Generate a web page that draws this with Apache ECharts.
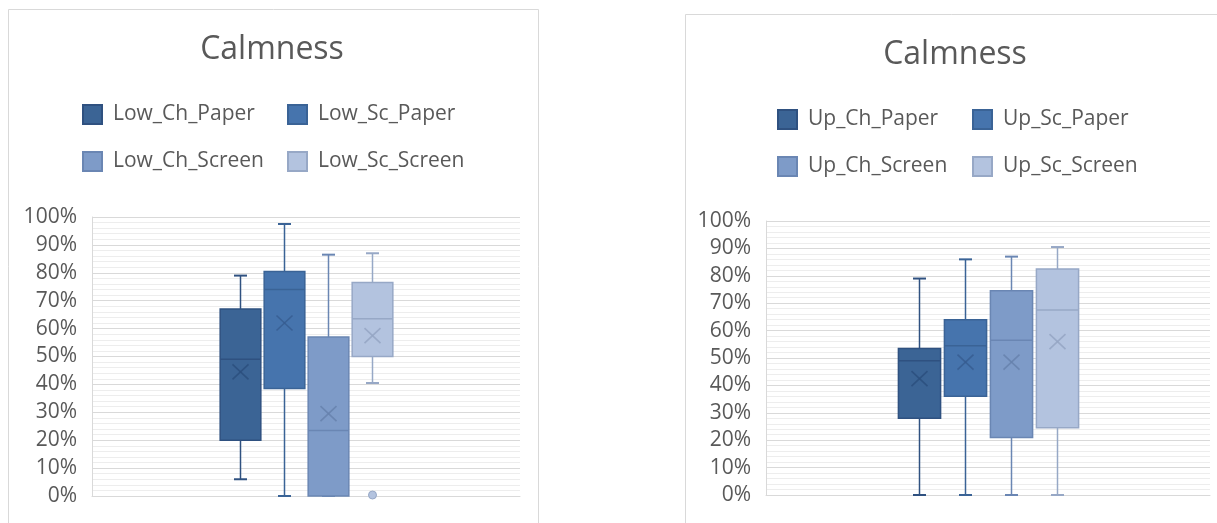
<!DOCTYPE html>
<html>
<head>
<meta charset="utf-8">
<title>Calmness</title>
<script src="https://cdn.jsdelivr.net/npm/echarts@6/dist/echarts.min.js"></script>
<style>
  html, body { margin: 0; padding: 0; background: #ffffff; }
  #chart { width: 1217px; height: 523px; }
</style>
</head>
<body>
<div id="chart"></div>
<script>
// Single category shared by every box
const categories = [''];

// Lower group
const lowNames = ['Low_Ch_Paper', 'Low_Sc_Paper', 'Low_Ch_Screen', 'Low_Sc_Screen'];
// [min, Q1, median, Q3, max] in percent
const lowBoxes = [
  [6, 20, 49, 67, 79],
  [0, 38.5, 74, 80.5, 97.5],
  [0, 0, 23.5, 57, 86.5],
  [40.5, 50, 63.5, 76.5, 87]
];
const lowMeans = [44.5, 62, 29.5, 57.5];
const lowOutliers = [[], [], [], [0]];

// Upper group
const upNames = ['Up_Ch_Paper', 'Up_Sc_Paper', 'Up_Ch_Screen', 'Up_Sc_Screen'];
const upBoxes = [
  [0, 28, 49, 53.5, 79],
  [0, 36, 54.5, 64, 86],
  [0, 21, 56.5, 74.5, 87],
  [0, 24.5, 67.5, 82.5, 90.5]
];
const upMeans = [42.5, 48.5, 48.5, 56];
const upOutliers = [[], [], [], []];

const yTicks = [0, 10, 20, 30, 40, 50, 60, 70, 80, 90, 100];

// Palette: fill, outline, mean marker
const fills = ['#3b6495', '#4674ad', '#7e9bc8', '#b3c3df'];
const strokes = ['#2f5180', '#3a6396', '#6a86b3', '#97a8c6'];
const meanColors = ['#2c4f7e', '#375d90', '#6681ad', '#94a5c3'];

const textColor = '#595959';
const font = 'Open Sans';

// Draws one box-and-whisker (plus mean cross and outliers) offset within the category band
function makeRenderer(outliers, idx, count) {
  return function (params, api) {
    const cat = api.value(0);
    const band = api.size([1, 0])[0];
    const step = band * 0.103;
    const boxW = band * 0.095;
    const cx = Math.round(api.coord([cat, 0])[0] + (idx - (count - 1) / 2) * step) + 0.5;
    const y = v => api.coord([cat, v])[1];
    const vMin = api.value(1), q1 = api.value(2), med = api.value(3),
          q3 = api.value(4), vMax = api.value(5), mean = api.value(6);
    const cap = 6.5;
    const lineStyle = { stroke: strokes[idx], lineWidth: 1.5 };
    const children = [
      { type: 'line', shape: { x1: cx, y1: y(vMin), x2: cx, y2: y(vMax) }, style: lineStyle },
      { type: 'line', shape: { x1: cx - cap, y1: y(vMin), x2: cx + cap, y2: y(vMin) }, style: { stroke: strokes[idx], lineWidth: 2 } },
      { type: 'line', shape: { x1: cx - cap, y1: y(vMax), x2: cx + cap, y2: y(vMax) }, style: { stroke: strokes[idx], lineWidth: 2 } },
      { type: 'rect', shape: { x: cx - boxW / 2, y: y(q3), width: boxW, height: y(q1) - y(q3) },
        style: { fill: fills[idx], stroke: strokes[idx], lineWidth: 1.5 } },
      { type: 'line', shape: { x1: cx - boxW / 2, y1: y(med), x2: cx + boxW / 2, y2: y(med) }, style: lineStyle },
      { type: 'line', shape: { x1: cx - 8, y1: y(mean) - 7.5, x2: cx + 8, y2: y(mean) + 7.5 },
        style: { stroke: meanColors[idx], lineWidth: 1.6, opacity: 0.85 } },
      { type: 'line', shape: { x1: cx - 8, y1: y(mean) + 7.5, x2: cx + 8, y2: y(mean) - 7.5 },
        style: { stroke: meanColors[idx], lineWidth: 1.6, opacity: 0.85 } }
    ];
    outliers.forEach(v => {
      children.push({ type: 'circle', shape: { cx: cx, cy: y(v) - 1, r: 4 },
        style: { fill: fills[idx], stroke: strokes[idx], lineWidth: 1 } });
    });
    return { type: 'group', children: children };
  };
}

function buildSeries(names, boxes, means, outliers, axisIndex) {
  return names.map((name, i) => ({
    name: name,
    type: 'custom',
    xAxisIndex: axisIndex,
    yAxisIndex: axisIndex,
    itemStyle: { color: fills[i], borderColor: strokes[i], borderWidth: 1 },
    encode: { x: 0, y: [1, 2, 3, 4, 5, 6] },
    data: [[0].concat(boxes[i], [means[i]])],
    renderItem: makeRenderer(outliers[i], i, names.length),
    clip: false
  }));
}

function yAxis(gridIndex) {
  return {
    type: 'value', gridIndex: gridIndex, min: 0, max: 100, interval: 10,
    axisLine: { show: true, lineStyle: { color: '#d9d9d9' } },
    axisTick: { show: false },
    axisLabel: { formatter: v => yTicks.indexOf(v) >= 0 ? v + '%' : '', color: textColor,
                 fontFamily: font, fontSize: 21, margin: 15 },
    splitLine: { lineStyle: { color: '#d9d9d9', width: 1 } },
    minorTick: { show: false, splitNumber: 5 },
    minorSplitLine: { show: true, lineStyle: { color: '#ededed', width: 1 } }
  };
}

function xAxis(gridIndex) {
  return {
    type: 'category', gridIndex: gridIndex, data: categories,
    axisLine: { show: true, lineStyle: { color: '#d9d9d9' } },
    axisTick: { show: false },
    axisLabel: { show: false }
  };
}

function legendAt(name, left, top) {
  return {
    data: [name], left: left, top: top, icon: 'rect', padding: 0,
    itemWidth: 19, itemHeight: 19, selectedMode: false,
    textStyle: { color: textColor, fontFamily: font, fontSize: 21, padding: [0, 0, 0, 6] }
  };
}

const chart = echarts.init(document.getElementById('chart'), null, { renderer: 'canvas' });

chart.setOption({
  animation: false,
  backgroundColor: '#ffffff',
  graphic: [
    { type: 'rect', z: -10, shape: { x: 8.5, y: 9.5, width: 530, height: 600 },
      style: { fill: 'none', stroke: '#d9d9d9', lineWidth: 1 } },
    { type: 'rect', z: -10, shape: { x: 685.5, y: 14.5, width: 600, height: 600 },
      style: { fill: 'none', stroke: '#d9d9d9', lineWidth: 1 } }
  ],
  title: [
    { text: 'Calmness', left: 272, top: 34, textAlign: 'center', padding: 0,
      textStyle: { color: textColor, fontFamily: font, fontSize: 32, fontWeight: 'normal' } },
    { text: 'Calmness', left: 955, top: 39, textAlign: 'center', padding: 0,
      textStyle: { color: textColor, fontFamily: font, fontSize: 32, fontWeight: 'normal' } }
  ],
  legend: [
    legendAt(lowNames[0], 82, 104),
    legendAt(lowNames[1], 287, 104),
    legendAt(lowNames[2], 82, 151),
    legendAt(lowNames[3], 287, 151),
    legendAt(upNames[0], 777, 109),
    legendAt(upNames[1], 972, 109),
    legendAt(upNames[2], 777, 156),
    legendAt(upNames[3], 972, 156)
  ],
  grid: [
    { left: 92, right: 697, top: 217, bottom: 27 },
    { left: 766, right: 7, top: 221, bottom: 28 }
  ],
  xAxis: [xAxis(0), xAxis(1)],
  yAxis: [yAxis(0), yAxis(1)],
  series: buildSeries(lowNames, lowBoxes, lowMeans, lowOutliers, 0)
    .concat(buildSeries(upNames, upBoxes, upMeans, upOutliers, 1))
});
</script>
</body>
</html>
